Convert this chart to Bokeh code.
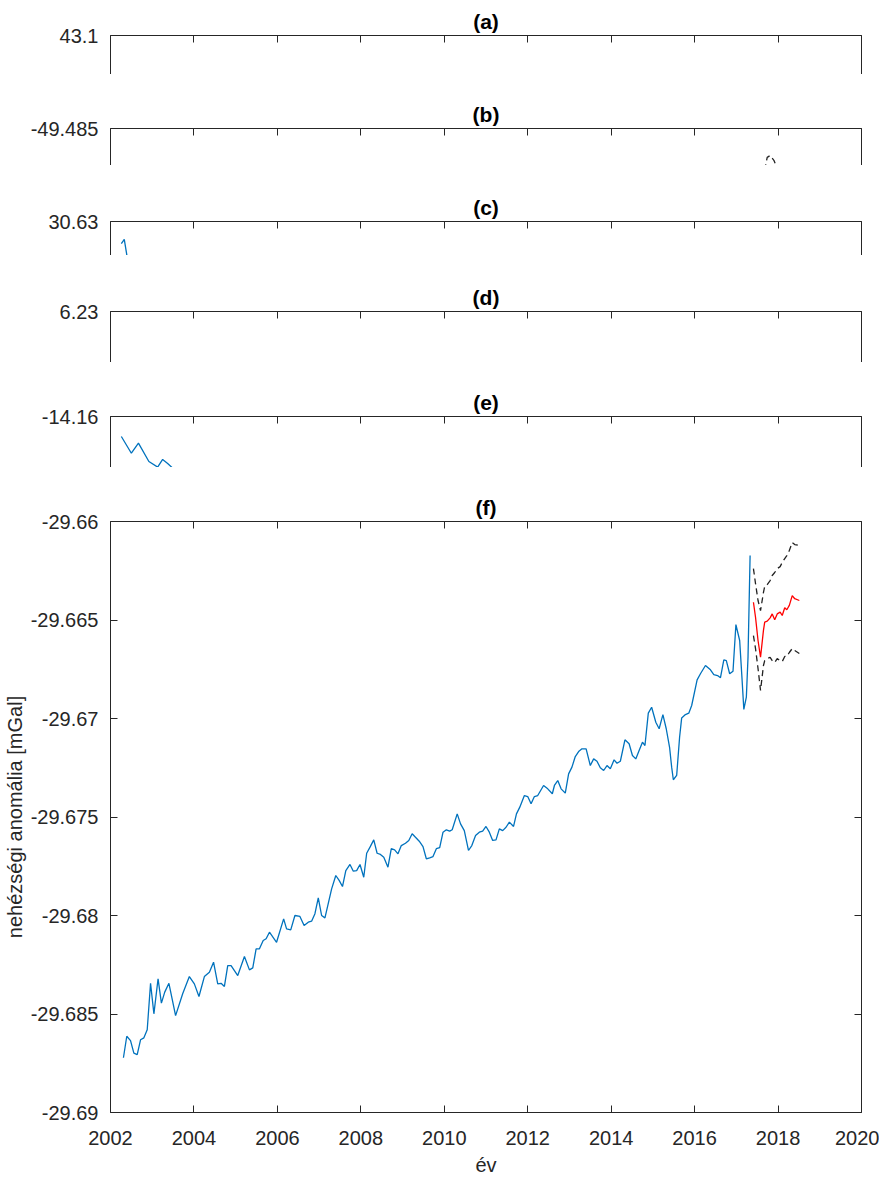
from bokeh.plotting import figure
from bokeh.models import Range1d, LinearAxis, FixedTicker, CustomJSTickFormatter
from bokeh.layouts import column
from bokeh.embed import file_html
from bokeh.resources import INLINE

# ---------------- data ----------------
panel_names = ["(a)", "(b)", "(c)", "(d)", "(e)", "(f)"]
panel_top_values = [43.1, -49.485, 30.63, 6.23, -14.16, -29.66]
panel_bottom_values = [43.0, -49.495, 30.55, 6.13, -14.20, -29.69]
x_tick_years = [2002, 2004, 2006, 2008, 2010, 2012, 2014, 2016, 2018, 2020]
f_y_ticks = [-29.69, -29.685, -29.68, -29.675, -29.67, -29.665, -29.66]

# panel (b): fragment of the dashed band
b_band_t = [2017.68, 2017.74, 2017.81, 2017.90, 2017.98]
b_band_v = [-49.4963, -49.4928, -49.4923, -49.4936, -49.4958]

# panel (c): fragment of the series
c_t = [2002.26, 2002.33, 2002.42]
c_v = [30.578, 30.588, 30.534]

# panel (e): fragment of the series
e_t = [2002.26, 2002.50, 2002.67, 2002.92, 2003.13, 2003.25, 2003.37, 2003.49, 2003.57]
e_v = [-14.1757, -14.1888, -14.1809, -14.1953, -14.1997, -14.1937, -14.1968, -14.2005, -14.2039]

# panel (f): measured series
blue_t = [
    2002.31, 2002.39, 2002.48, 2002.56, 2002.64, 2002.72, 2002.80, 2002.88, 2002.96, 2003.04,
    2003.14, 2003.22, 2003.30, 2003.40, 2003.56, 2003.73, 2003.89, 2004.01, 2004.12, 2004.25,
    2004.37, 2004.47, 2004.57, 2004.65, 2004.73, 2004.81, 2004.89, 2005.05, 2005.21, 2005.33,
    2005.41, 2005.49, 2005.57, 2005.66, 2005.73, 2005.81, 2005.98, 2006.15, 2006.22, 2006.32,
    2006.42, 2006.54, 2006.64, 2006.74, 2006.82, 2006.90, 2006.98, 2007.06, 2007.14, 2007.30,
    2007.40, 2007.48, 2007.56, 2007.64, 2007.74, 2007.82, 2007.90, 2007.98, 2008.07, 2008.14,
    2008.22, 2008.31, 2008.39, 2008.47, 2008.55, 2008.65, 2008.73, 2008.81, 2008.89, 2008.97,
    2009.07, 2009.15, 2009.23, 2009.31, 2009.40, 2009.49, 2009.57, 2009.65, 2009.73, 2009.81,
    2009.89, 2009.97, 2010.05, 2010.13, 2010.19, 2010.31, 2010.39, 2010.48, 2010.58, 2010.66,
    2010.75, 2010.84, 2010.92, 2011.00, 2011.08, 2011.16, 2011.24, 2011.32, 2011.40, 2011.48,
    2011.56, 2011.66, 2011.73, 2011.81, 2011.92, 2012.00, 2012.08, 2012.16, 2012.24, 2012.38,
    2012.48, 2012.59, 2012.64, 2012.72, 2012.80, 2012.90, 2012.98, 2013.06, 2013.14, 2013.22,
    2013.30, 2013.40, 2013.50, 2013.58, 2013.66, 2013.74, 2013.82, 2013.90, 2013.98, 2014.07,
    2014.14, 2014.22, 2014.33, 2014.43, 2014.51, 2014.59, 2014.67, 2014.75, 2014.81, 2014.89,
    2014.97, 2015.07, 2015.15, 2015.24, 2015.32, 2015.40, 2015.45, 2015.49, 2015.57, 2015.64,
    2015.69, 2015.78, 2015.86, 2015.93, 2016.06, 2016.14, 2016.26, 2016.38, 2016.46, 2016.55,
    2016.62, 2016.70, 2016.76, 2016.84, 2016.92, 2016.99, 2017.08, 2017.13, 2017.18, 2017.24,
    2017.28, 2017.33,
]
blue_v = [
    -29.68722, -29.68613, -29.68635, -29.68699, -29.68706, -29.68631, -29.68621, -29.68580, -29.68344, -29.68499,
    -29.68321, -29.68445, -29.68389, -29.68344, -29.68508, -29.68397, -29.68310, -29.68347, -29.68411, -29.68310,
    -29.68288, -29.68237, -29.68347, -29.68344, -29.68360, -29.68254, -29.68254, -29.68305, -29.68208, -29.68276,
    -29.68266, -29.68169, -29.68169, -29.68127, -29.68118, -29.68085, -29.68136, -29.68017, -29.68068, -29.68073,
    -29.68000, -29.68005, -29.68051, -29.68034, -29.68029, -29.67991, -29.67910, -29.68000, -29.68012, -29.67865,
    -29.67797, -29.67822, -29.67853, -29.67772, -29.67741, -29.67775, -29.67772, -29.67741, -29.67806, -29.67684,
    -29.67653, -29.67616, -29.67684, -29.67690, -29.67704, -29.67755, -29.67661, -29.67667, -29.67687, -29.67645,
    -29.67633, -29.67619, -29.67585, -29.67603, -29.67623, -29.67650, -29.67712, -29.67707, -29.67701, -29.67661,
    -29.67656, -29.67577, -29.67565, -29.67572, -29.67565, -29.67484, -29.67535, -29.67569, -29.67670, -29.67645,
    -29.67594, -29.67577, -29.67572, -29.67548, -29.67577, -29.67619, -29.67616, -29.67560, -29.67569, -29.67552,
    -29.67526, -29.67548, -29.67484, -29.67450, -29.67391, -29.67396, -29.67433, -29.67396, -29.67391, -29.67340,
    -29.67357, -29.67382, -29.67340, -29.67315, -29.67357, -29.67379, -29.67281, -29.67247, -29.67193, -29.67168,
    -29.67154, -29.67154, -29.67239, -29.67205, -29.67217, -29.67250, -29.67264, -29.67239, -29.67255, -29.67210,
    -29.67227, -29.67217, -29.67108, -29.67128, -29.67188, -29.67205, -29.67163, -29.67120, -29.67137, -29.66973,
    -29.66943, -29.67019, -29.67052, -29.66980, -29.67052, -29.67146, -29.67247, -29.67311, -29.67289, -29.67095,
    -29.66997, -29.66980, -29.66973, -29.66934, -29.66804, -29.66773, -29.66731, -29.66753, -29.66777, -29.66782,
    -29.66793, -29.66702, -29.66706, -29.66773, -29.66760, -29.66523, -29.66604, -29.66776, -29.66954, -29.66892,
    -29.66689, -29.66173,
]

# panel (f): prediction and its band
pred_t = [2017.41, 2017.46, 2017.52, 2017.58, 2017.65, 2017.68, 2017.74, 2017.81, 2017.86, 2017.92,
          2017.98, 2018.05, 2018.10, 2018.16, 2018.21, 2018.27, 2018.34, 2018.40, 2018.51]
pred_v = [-29.66410, -29.66486, -29.66604, -29.66689, -29.66553, -29.66511, -29.66506, -29.66489, -29.66469, -29.66499,
          -29.66469, -29.66460, -29.66477, -29.66438, -29.66448, -29.66426, -29.66376, -29.66392, -29.66401]
upper_v = [-29.66239, -29.66315, -29.66401, -29.66452, -29.66360, -29.66330, -29.66320, -29.66300, -29.66274, -29.66259,
           -29.66239, -29.66229, -29.66208, -29.66188, -29.66173, -29.66147, -29.66107, -29.66117, -29.66122]
lower_v = [-29.66579, -29.66645, -29.66746, -29.66858, -29.66731, -29.66706, -29.66696, -29.66690, -29.66706, -29.66716,
           -29.66696, -29.66706, -29.66711, -29.66685, -29.66685, -29.66665, -29.66645, -29.66655, -29.66670]

x_label = "év"
y_label = "nehézségi anomália [mGal]"

# ---------------- style ----------------
AX = "#262626"
FONT = "Liberation Sans"
BLUE = "#0072BD"
RED = "#FF0000"
FRAME_W = 751
LEFT = 110
RIGHT = 18
TICK_FMT = "return String(parseFloat(tick.toFixed(4)));"


def style_axis(ax, ticks, labels=True):
    ax.ticker = FixedTicker(ticks=ticks)
    ax.axis_line_color = AX
    ax.axis_line_width = 1
    ax.major_tick_line_color = AX
    ax.major_tick_line_width = 1
    ax.major_tick_in = 7
    ax.major_tick_out = 0
    ax.minor_tick_line_color = None
    ax.major_label_text_font = FONT
    ax.major_label_text_color = AX
    if labels:
        ax.formatter = CustomJSTickFormatter(code=TICK_FMT)
        ax.major_label_text_font_size = "20px"
        ax.major_label_standoff = 12
    else:
        ax.formatter = CustomJSTickFormatter(code="return '';")
        ax.major_label_text_font_size = "0px"
        ax.major_label_standoff = 0


def make_panel(idx, frame_h, top_border, is_main=False):
    y0 = panel_bottom_values[idx]
    y1 = panel_top_values[idx]
    p = figure(frame_width=FRAME_W, frame_height=frame_h,
               x_range=Range1d(x_tick_years[0], x_tick_years[-1]),
               y_range=Range1d(y0, y1),
               x_axis_location="below" if is_main else "above",
               toolbar_location=None, output_backend="svg",
               min_border_left=LEFT, min_border_right=RIGHT,
               min_border_top=top_border, min_border_bottom=0,
               title=panel_names[idx])
    p.title.align = "center"
    p.title.text_font = FONT
    p.title.text_font_size = "21px"
    p.title.text_font_style = "bold"
    p.title.text_color = "black"
    p.title.standoff = 6
    p.outline_line_color = None
    p.grid.visible = False
    p.background_fill_color = "white"
    p.border_fill_color = "white"
    if is_main:
        xa = p.xaxis[0]
        style_axis(xa, x_tick_years, labels=True)
        xa.major_label_standoff = 18
        xa.axis_label = x_label
        xa.axis_label_text_font = FONT
        xa.axis_label_text_font_size = "20px"
        xa.axis_label_text_font_style = "normal"
        xa.axis_label_text_color = AX
        xa.axis_label_standoff = 6
        ya = p.yaxis[0]
        style_axis(ya, f_y_ticks, labels=True)
        ya.axis_label = y_label
        ya.axis_label_text_font = FONT
        ya.axis_label_text_font_size = "20px"
        ya.axis_label_text_font_style = "normal"
        ya.axis_label_text_color = AX
        ya.axis_label_standoff = 2
        top_ax = LinearAxis()
        style_axis(top_ax, x_tick_years, labels=False)
        p.add_layout(top_ax, "above")
        right_ax = LinearAxis()
        style_axis(right_ax, f_y_ticks, labels=False)
        p.add_layout(right_ax, "right")
    else:
        style_axis(p.xaxis[0], x_tick_years, labels=False)
        style_axis(p.yaxis[0], [y1], labels=True)
        right_ax = LinearAxis()
        style_axis(right_ax, [y1], labels=False)
        p.add_layout(right_ax, "right")
    return p


pa = make_panel(0, 39, 35)
pb = make_panel(1, 37, 54)
pb.line(b_band_t, b_band_v, line_color="#222222", line_width=1.3, line_dash="6 4")
pc = make_panel(2, 34, 56)
pc.line(c_t, c_v, line_color=BLUE, line_width=1.3)
pd = make_panel(3, 51, 56)
pe = make_panel(4, 51, 54)
pe.line(e_t, e_v, line_color=BLUE, line_width=1.3)
pf = make_panel(5, 591, 54, is_main=True)
pf.line(blue_t, blue_v, line_color=BLUE, line_width=1.3)
pf.line(pred_t, upper_v, line_color="#222222", line_width=1.3, line_dash="6 4")
pf.line(pred_t, lower_v, line_color="#222222", line_width=1.3, line_dash="6 4")
pf.line(pred_t, pred_v, line_color=RED, line_width=1.3)

layout = column(pa, pb, pc, pd, pe, pf, spacing=0)
open("out.html", "w").write(file_html(layout, INLINE))
